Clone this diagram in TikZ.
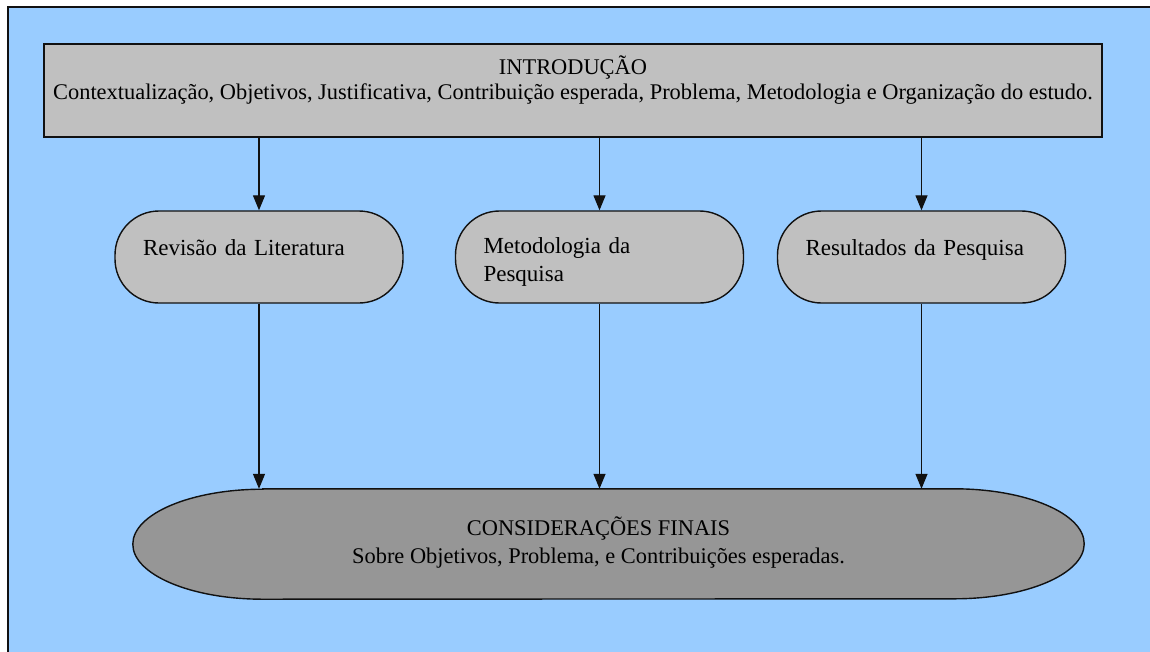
\documentclass[tikz,border=0pt]{standalone}
\usepackage{fontspec}
\setmainfont{Liberation Serif}
\usetikzlibrary{arrows.meta,calc}
\definecolor{bgblue}{HTML}{99CCFF}
\definecolor{boxgray}{HTML}{C0C0C0}
\definecolor{endgray}{HTML}{969696}
\definecolor{edge}{HTML}{111111}
\begin{document}
\begin{tikzpicture}[x=1pt,y=-1pt,
  every node/.style={font=\fontsize{22.4}{25}\selectfont, text=black},
  topbox/.style={draw=edge, fill=boxgray, line width=1.6pt, minimum width=1058pt, minimum height=93pt, align=center, inner sep=0pt},
  stadium/.style={draw=edge, fill=boxgray, line width=1.4pt, rounded corners=44pt, minimum height=92pt, text width=232pt, inner xsep=28pt, inner ysep=0pt, align=left, font=\fontsize{23}{28}\selectfont},
  endbox/.style={minimum width=951pt, minimum height=110pt, align=center, inner sep=0pt},
  arr/.style={draw=edge, line width=1.3pt, -{Triangle[length=15pt,width=12pt]}}]
\useasboundingbox (0,0) rectangle (1150,651);
\clip (0,0) rectangle (1150,651);
\draw[fill=bgblue, draw=edge, line width=1.8pt] (8,7) rectangle (1170,670);

\node[topbox] (intro) at (573,90.5) {INTRODUÇÃO\\Contextualização, Objetivos, Justificativa, Contribuição esperada, Problema, Metodologia e Organização do estudo.\\[-7pt]\strut};

\node[stadium] (rev) at (259,257) {Revisão da Literatura\\[-18pt]\strut};
\node[stadium] (met) at (599.5,257) {\rule{0pt}{26pt}Metodologia da\\Pesquisa};
\node[stadium] (res) at (921.5,257) {Resultados da Pesquisa\\[-18pt]\strut};

\node[endbox] (fin) at (608.5,544) {};
\draw[fill=endgray, draw=edge, line width=1.4pt]
  ($(fin.north west)+(130,0)$) -- ($(fin.north east)+(-130,0)$)
  arc[start angle=90, end angle=-90, x radius=130pt, y radius=55pt]
  -- ($(fin.south west)+(130,0)$)
  arc[start angle=270, end angle=90, x radius=130pt, y radius=55pt] -- cycle;
\node[align=center, font=\fontsize{22.4}{28}\selectfont] at ($(fin.center)+(-10,-1.5)$) {CONSIDERAÇÕES FINAIS\\Sobre Objetivos, Problema, e Contribuições esperadas.};

\draw[arr] (intro.south -| rev.north) -- (rev.north);
\draw[arr] (intro.south -| met.north) -- (met.north);
\draw[arr] (intro.south -| res.north) -- (res.north);

\draw[arr] (rev.south) -- (rev.south |- fin.north);
\draw[arr] (met.south) -- (met.south |- fin.north);
\draw[arr] (res.south) -- (res.south |- fin.north);
\end{tikzpicture}
\end{document}
